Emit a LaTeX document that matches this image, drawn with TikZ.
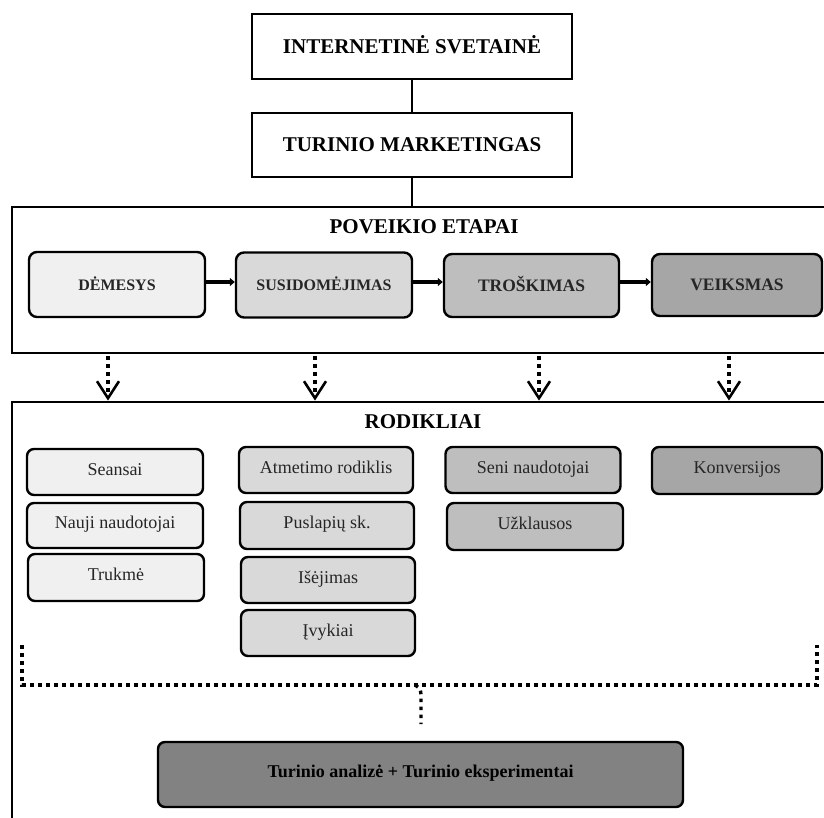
\documentclass[tikz,border=0pt]{standalone}
\usepackage{fontspec}
\setmainfont{Liberation Serif}
\usetikzlibrary{arrows.meta}
\definecolor{tone1}{HTML}{F0F0F0}
\definecolor{tone2}{HTML}{D9D9D9}
\definecolor{tone3}{HTML}{BEBEBE}
\definecolor{tone4}{HTML}{A6A6A6}
\definecolor{tone5}{HTML}{828282}
\definecolor{ink}{HTML}{262626}
\begin{document}
\begin{tikzpicture}[x=1pt,y=-1pt,
  headbox/.style={draw, line width=2.8pt, fill=white, inner sep=0pt,
    font=\fontsize{21}{24}\selectfont\bfseries, text height=14pt, text depth=0pt},
  frame/.style={draw, line width=2.8pt, inner sep=0pt},
  frametitle/.style={font=\fontsize{21}{24}\selectfont\bfseries},
  stagebox/.style={draw, line width=2.4pt, rounded corners=8pt, inner sep=0pt,
    text=ink, text height=11.5pt, text depth=0pt},
  metricbox/.style={draw, line width=2.4pt, rounded corners=7pt, inner sep=0pt,
    text=ink, font=\fontsize{18}{20}\selectfont, text height=12.5pt, text depth=6pt},
  link/.style={line width=1.6pt},
  stagearrow/.style={line width=4.5pt, -{Triangle[length=5pt,width=8pt]}},
  dotline/.style={line width=3.4pt, dash pattern=on 3.6pt off 4.4pt},
  dotarrow/.style={dotline, -{Straight Barb[length=17pt,width=22pt,line width=2.6pt]}}
]
\useasboundingbox (0,0) rectangle (824,818);
\clip (0,0) rectangle (824,818);

% top chain
\node[headbox, minimum width=320, minimum height=65] (site) at (412,46.5) {INTERNETINĖ SVETAINĖ};
\node[headbox, minimum width=320, minimum height=64] (cm) at (412,145) {TURINIO MARKETINGAS};

% frames
\node[frame, minimum width=824, minimum height=146] (etapai) at (424,280) {};
\node[frame, minimum width=824, minimum height=438] (rodikliai) at (424,621) {};
\node[frametitle] (etapaiT) at (424,227) {POVEIKIO ETAPAI};
\node[frametitle] (rodikliaiT) at (423,422) {RODIKLIAI};

\draw[link] (site) -- (cm);
\draw[link] (cm) -- (cm.south |- etapai.north);

% stages
\node[stagebox, fill=tone1, minimum width=176, minimum height=65,
  font=\fontsize{16}{18}\selectfont\bfseries] (dem) at (117,284.5) {DĖMESYS};
\node[stagebox, fill=tone2, minimum width=176, minimum height=65,
  font=\fontsize{16}{18}\selectfont\bfseries] (sus) at (324,285) {SUSIDOMĖJIMAS};
\node[stagebox, fill=tone3, minimum width=175, minimum height=63,
  font=\fontsize{17.5}{20}\selectfont\bfseries] (tro) at (531.5,285.5) {TROŠKIMAS};
\node[stagebox, fill=tone4, minimum width=170, minimum height=62,
  font=\fontsize{17.5}{20}\selectfont\bfseries] (vei) at (737,285) {VEIKSMAS};

\draw[stagearrow] (dem.east |- 0,282) -- (sus.west |- 0,282);
\draw[stagearrow] (sus.east |- 0,282) -- (tro.west |- 0,282);
\draw[stagearrow] (tro.east |- 0,282) -- (vei.west |- 0,282);

% arrows from stages to indicators
\coordinate (d1) at (108,356);
\coordinate (d2) at (315,356);
\coordinate (d3) at (539,356);
\coordinate (d4) at (729,356);
\foreach \c in {d1,d2,d3,d4}
  \draw[dotarrow] (\c) -- (\c |- rodikliai.north);

% indicators
\node[metricbox, fill=tone1, minimum width=176, minimum height=46] (m11) at (115,472) {Seansai};
\node[metricbox, fill=tone1, minimum width=176, minimum height=45] (m12) at (115,525.5) {Nauji naudotojai};
\node[metricbox, fill=tone1, minimum width=176, minimum height=47] (m13) at (116,577.5) {Trukmė};

\node[metricbox, fill=tone2, minimum width=174, minimum height=46] (m21) at (326,470) {Atmetimo rodiklis};
\node[metricbox, fill=tone2, minimum width=174, minimum height=47] (m22) at (327,525.5) {Puslapių sk.};
\node[metricbox, fill=tone2, minimum width=174, minimum height=46] (m23) at (328,580) {Išėjimas};
\node[metricbox, fill=tone2, minimum width=174, minimum height=46] (m24) at (328,633) {Įvykiai};

\node[metricbox, fill=tone3, minimum width=175, minimum height=46] (m31) at (533,470) {Seni naudotojai};
\node[metricbox, fill=tone3, minimum width=176, minimum height=47] (m32) at (535,526.5) {Užklausos};

\node[metricbox, fill=tone4, minimum width=170, minimum height=47] (m41) at (737,470.5) {Konversijos};

% summary
\node[metricbox, fill=tone5, text=black, minimum width=525, minimum height=65,
  font=\fontsize{18}{20}\selectfont\bfseries] (sum) at (420.5,774.5) {Turinio analizė + Turinio eksperimentai};

% bracket gathering the indicators
\coordinate (bl) at (22,645);
\coordinate (br) at (817,645);
\coordinate (bm) at (415,685);
\coordinate (bk) at (421,702);
\coordinate (bt) at (421,724);
\draw[dotline] (bl) -- (bl |- bm) -- (br |- bm) -- (br);
\draw[dotline] (bm) .. controls (421,689) .. (bk) -- (bt);
\end{tikzpicture}
\end{document}
